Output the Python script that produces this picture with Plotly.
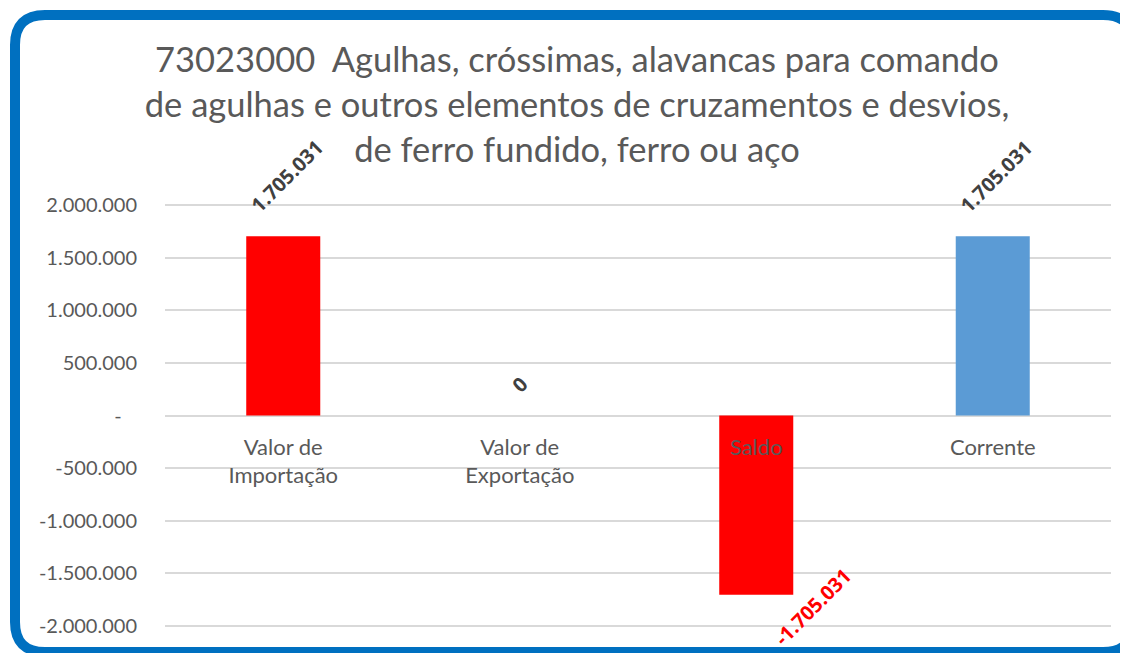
import plotly.graph_objects as go

categories = ["Valor de<br>Importação", "Valor de<br>Exportação", "Saldo", "Corrente"]
values = [1705031, 0, -1705031, 1705031]
bar_colors = ["#FF0000", "#FF0000", "#FF0000", "#5B9BD5"]
value_labels = ["1.705.031", "0", "-1.705.031", "1.705.031"]
label_colors = ["#404040", "#404040", "#FF0000", "#404040"]
tick_vals = [2000000, 1500000, 1000000, 500000, 0, -500000, -1000000, -1500000, -2000000]
tick_text = ["2.000.000", "1.500.000", "1.000.000", "500.000", "-\u00a0\u00a0\u00a0",
             "-500.000", "-1.000.000", "-1.500.000", "-2.000.000"]
title_text = ("73023000  Agulhas, cróssimas, alavancas para comando<br>"
              "de agulhas e outros elementos de cruzamentos e desvios,<br>"
              "de ferro fundido, ferro ou aço")

# page renders with an 8px body offset; work in figure pixel coords
OFF = 8
W, H = 1128, 653
L, R, T, B = 165 - OFF, 25, 203 - OFF, 33
ymax = 2020000
pw, ph = W - L - R, H - T - B

def px_to_paper(px, py):
    px -= OFF
    py -= OFF
    return (px - L) / pw, (H - B - py) / ph

FONT = "Lato, 'Open Sans', sans-serif"
LFONT = "'Open Sans', Lato, sans-serif"
GRAY = "#595959"

fig = go.Figure()
fig.add_trace(go.Bar(
    x=list(range(len(categories))), y=values,
    marker=dict(color=bar_colors, line=dict(width=0)),
    width=0.313, hoverinfo="skip",
))

annotations = []
for i, (v, lab, col) in enumerate(zip(values, value_labels, label_colors)):
    if v > 0:
        xs, ys = 3, 60
    elif v == 0:
        xs, ys = 0, 31
    else:
        xs, ys = 57, -12
    annotations.append(dict(
        x=i, y=v, xref="x", yref="y", text=f"<b>{lab}</b>", showarrow=False,
        textangle=-45, xshift=xs, yshift=ys,
        font=dict(family=LFONT, size=20, color=col),
    ))

# rounded border frame
x0, y0 = px_to_paper(15, 15)
x1, y1 = px_to_paper(1133, 652)
rx = 30 / pw
ry = 30 / ph
path = (f"M {x0+rx},{y0} L {x1-rx},{y0} Q {x1},{y0} {x1},{y0-ry} "
        f"L {x1},{y1+ry} Q {x1},{y1} {x1-rx},{y1} L {x0+rx},{y1} "
        f"Q {x0},{y1} {x0},{y1+ry} L {x0},{y0-ry} Q {x0},{y0} {x0+rx},{y0} Z")

fig.update_layout(
    width=W, height=H,
    margin=dict(l=L, r=R, t=T, b=B),
    paper_bgcolor="white", plot_bgcolor="white",
    showlegend=False,
    title=dict(text=title_text, x=(577 - OFF - L) / pw, xref="paper", xanchor="center",
               y=1 - 64 / H, yref="container", yanchor="middle",
               font=dict(family=FONT, size=34.5, color=GRAY)),
    xaxis=dict(
        tickvals=list(range(len(categories))), ticktext=categories,
        range=[-0.5, len(categories) - 0.5],
        anchor="free", position=0.5, showgrid=False, showline=False,
        ticks="", ticklabelstandoff=16,
        tickfont=dict(family=FONT, size=22, color=GRAY),
    ),
    yaxis=dict(
        range=[-ymax, ymax], tickvals=tick_vals, ticktext=tick_text,
        showgrid=True, gridcolor="#D9D9D9", gridwidth=1.5,
        zeroline=True, zerolinecolor="#D9D9D9", zerolinewidth=1.5,
        showline=False, ticks="", ticklabelstandoff=27,
        tickfont=dict(family=FONT, size=20, color=GRAY),
    ),
    annotations=annotations,
    shapes=[dict(type="path", path=path, xref="paper", yref="paper",
                 line=dict(color="#0070C0", width=10), layer="above")],
)

fig.write_html("out.html")
